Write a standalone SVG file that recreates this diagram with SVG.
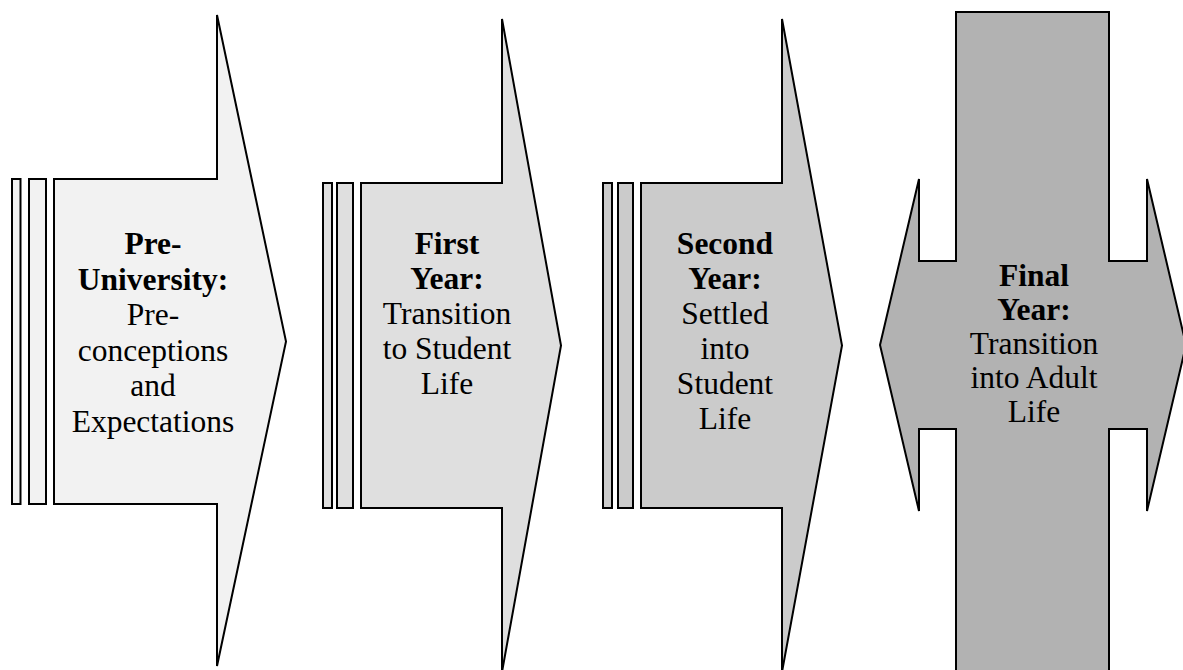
<svg xmlns="http://www.w3.org/2000/svg" width="1183" height="670" viewBox="0 0 1183 670">
  <style>
    .shape { stroke: #000; stroke-width: 2; stroke-linejoin: miter; }
    .s1 { fill: #f2f2f2; }
    .s2 { fill: #dfdfdf; }
    .s3 { fill: #cbcbcb; }
    .s4 { fill: #b2b2b2; }
    text { font-family: "Liberation Serif", "Times New Roman", serif; font-size: 31.5px; fill: #000; text-anchor: middle; }
    .b { font-weight: bold; }
  </style>
  <rect width="1183" height="670" fill="#fff"/>

  <!-- Stage 1: Pre-University -->
  <g id="pre-university">
    <rect class="shape s1" x="12" y="179" width="8.5" height="325"/>
    <rect class="shape s1" x="29" y="179" width="17" height="325"/>
    <path class="shape s1" d="M54,179 H217 V15 L286,341.5 L217,666 V504 H54 Z"/>
    <text x="153" y="254"><tspan class="b">Pre-</tspan><tspan class="b" x="153" dy="35.5">University:</tspan><tspan x="153" dy="35.5">Pre-</tspan><tspan x="153" dy="35.5">conceptions</tspan><tspan x="153" dy="35.5">and</tspan><tspan x="153" dy="35.5">Expectations</tspan></text>
  </g>

  <!-- Stage 2: First Year -->
  <g id="first-year">
    <rect class="shape s2" x="323" y="183" width="9" height="325"/>
    <rect class="shape s2" x="337" y="183" width="16" height="325"/>
    <path class="shape s2" d="M361,183 H502 V19 L561,345.5 L502,672 V508 H361 Z"/>
    <text x="447" y="254"><tspan class="b">First</tspan><tspan class="b" x="447" dy="35">Year:</tspan><tspan x="447" dy="35">Transition</tspan><tspan x="447" dy="35">to Student</tspan><tspan x="447" dy="35">Life</tspan></text>
  </g>

  <!-- Stage 3: Second Year -->
  <g id="second-year">
    <rect class="shape s3" x="603" y="183" width="9" height="325"/>
    <rect class="shape s3" x="618" y="183" width="15" height="325"/>
    <path class="shape s3" d="M641,183 H782 V19 L842,345.5 L782,672 V508 H641 Z"/>
    <text x="725" y="254"><tspan class="b">Second</tspan><tspan class="b" x="725" dy="35">Year:</tspan><tspan x="725" dy="35">Settled</tspan><tspan x="725" dy="35">into</tspan><tspan x="725" dy="35">Student</tspan><tspan x="725" dy="35">Life</tspan></text>
  </g>

  <!-- Stage 4: Final Year (cross with left/right arrowheads) -->
  <g id="final-year">
    <path class="shape s4" d="M956,12 H1109 V261 H1147 V179 L1186,345 L1147,511 V429 H1109 V680 H956 V429 H919 V511 L880,345 L919,179 V261 H956 Z"/>
    <text x="1034" y="286"><tspan class="b">Final</tspan><tspan class="b" x="1034" dy="34">Year:</tspan><tspan x="1034" dy="34">Transition</tspan><tspan x="1034" dy="34">into Adult</tspan><tspan x="1034" dy="34">Life</tspan></text>
  </g>

  <g id="connectors"></g>
</svg>
